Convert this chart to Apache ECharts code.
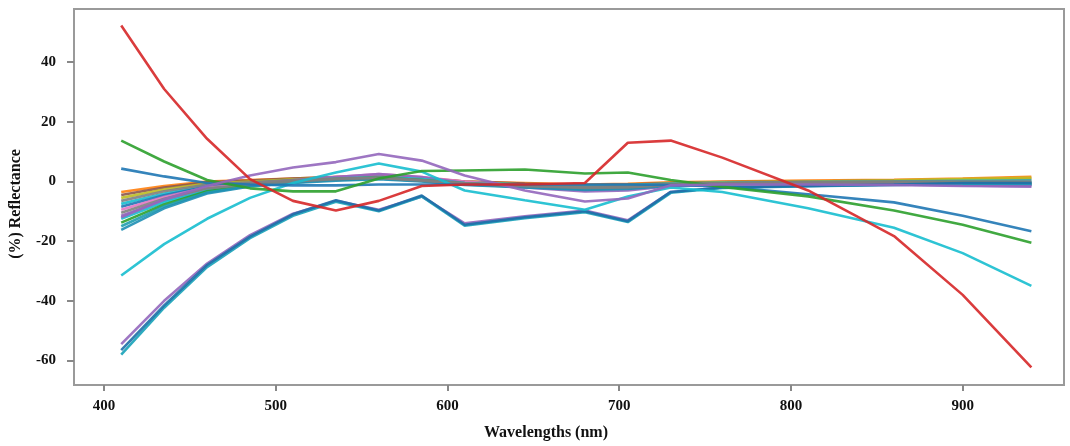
<!DOCTYPE html>
<html>
<head>
<meta charset="utf-8">
<script src="https://cdn.jsdelivr.net/npm/echarts@6/dist/echarts.min.js"></script>
<style>html,body{margin:0;padding:0;background:#fff}#c{width:1070px;height:446px}</style>
</head>
<body>
<div id="c"></div>
<script>
const wavelengths = [410,435,460,485,510,535,560,585,610,645,680,705,730,760,810,860,900,940];
const xTicks = [400,500,600,700,800,900];
const yTicks = [-60,-40,-20,0,20,40];

// band lines (converging near zero)
const bandOrange = [-3.5,-1.5,0,0.5,1,1.5,1.8,1,0,-0.5,-1,-0.8,-0.3,0,0.3,0.6,1,1.6];
const bandBrown  = [-4.5,-2,-0.3,0.3,1,1.5,2,1.2,0,-0.7,-1.3,-1,-0.5,-0.2,0,0.3,0.5,0.8];
const bandOlive  = [-5.5,-2.7,-0.7,0,0.7,1.2,1.5,0.8,-0.3,-1,-1.5,-1.2,-0.7,-0.3,0,0.4,0.8,1.2];
const bandCyanA  = [-7.5,-4,-1.3,-0.5,0.3,1,1.5,1,-0.3,-1,-1.5,-1.3,-0.7,-0.4,-0.2,0,0.2,0.3];
const bandBlue   = [-8.5,-4.6,-1.7,-0.7,0,0.7,1,0.3,-0.7,-1.5,-2,-1.7,-1,-0.6,-0.3,-0.2,-0.2,-0.3];
const bandPink   = [-9.5,-5.2,-2,-0.9,0.3,1.5,2.5,1.5,0,-1.5,-2.7,-2.3,-1,-0.6,-0.4,-0.4,-0.4,-0.5];
const bandPurple = [-11.5,-6.4,-2.6,-1,0.5,1.5,2.5,1.5,-0.5,-2,-3.3,-3,-1.5,-1,-0.8,-1,-1.3,-1.7];
const bandCyanB  = [-12.5,-7,-3,-1.2,0,1,1.5,0.8,-0.5,-1.3,-2,-1.8,-1,-0.7,-0.5,-0.5,-0.6,-0.7];
const bandGreen  = [-13.8,-7.7,-3.3,-1.3,0,0.8,1.3,0.5,-0.7,-1.5,-2.3,-2,-1,-0.6,-0.4,-0.4,-0.4,-0.5];
const bandTeal   = [-15,-8.4,-3.7,-1.5,-0.3,0.5,1,0.2,-1,-1.8,-2.5,-2.2,-1.2,-0.8,-0.6,-0.7,-0.8,-1];
const bandTealB  = [-16.2,-9,-4,-1.7,-0.5,0.3,0.8,0,-1.2,-2,-2.8,-2.5,-1.4,-1,-0.7,-0.8,-1,-1.2];
const bandGrayA  = [-6.5,-3.3,-1,-0.3,0.5,1,1.3,0.5,-0.5,-1.2,-1.8,-1.5,-0.8,-0.5,-0.2,0,0,0];
const bandGrayB  = [-10.5,-5.8,-2.3,-1,0,0.8,1.2,0.3,-0.8,-1.6,-2.2,-2,-1.2,-0.8,-0.5,-0.5,-0.6,-0.8];

// bottom group
const lowPurple = [-54.5,-40,-27.5,-18,-10.8,-6.5,-9.5,-5,-14,-11.7,-9.7,-13,-3.5,-2,-1.5,-1.2,-1,-1];
const lowBlue   = [-56.5,-41.5,-28,-18.5,-11,-6.3,-9.7,-4.7,-14.5,-12,-10,-13.3,-3.5,-2,-1.5,-1,-0.5,-0.5];
const lowTeal   = [-58,-42.3,-28.7,-19,-11.5,-6.8,-10,-5,-14.8,-12.3,-10.3,-13.6,-3.8,-2.2,-1.6,-1.2,-0.8,-0.8];

// distinct lines
const purpleHump = [-12,-6,-1.5,2,4.7,6.5,9.2,7,2,-3,-6.7,-5.7,-1.3,-1,-1,-1.2,-1.5,-1.7];
const cyanLine   = [-31.5,-21,-12.5,-5.5,-0.5,3,6,3.3,-3,-6.3,-9.5,-5,-2,-3.5,-9,-15.5,-24,-35];
const blueLine   = [4.3,1.7,-0.5,-1,-1.3,-1.3,-1,-1,-1,-1,-1,-1,-1.2,-1.7,-4.3,-7,-11.5,-16.7];
const greenLine  = [13.7,6.7,0.5,-2.3,-3.3,-3.3,1,3.5,3.7,4,2.7,3,0.5,-1.8,-5,-9.7,-14.5,-20.5];
const redLine    = [52.3,31,14.3,0.8,-6.5,-9.7,-6.5,-1.5,-1,-1,-0.5,13,13.7,8,-3,-18.3,-38,-62.3];

const seriesDefs = [
  [bandOrange,'#ff7f0e'],[bandBrown,'#8c564b'],[bandOlive,'#bcbd22'],[bandCyanA,'#17becf'],
  [bandBlue,'#1f77b4'],[bandPink,'#e377c2'],[bandPurple,'#9467bd'],[bandCyanB,'#17becf'],
  [bandGreen,'#2ca02c'],[bandTeal,'#1f9eae'],[bandTealB,'#1f8fb4'],
  [bandGrayA,'#7f7f7f'],[bandGrayB,'#7f7f7f'],
  [lowPurple,'#9467bd'],[lowTeal,'#17a2b8'],[lowBlue,'#1f6fa8'],
  [cyanLine,'#17becf'],[blueLine,'#1f77b4'],[greenLine,'#2ca02c'],[purpleHump,'#9467bd'],[redLine,'#d62728']
];

const series = seriesDefs.map(([vals,color]) => ({
  type:'line', symbol:'none', smooth:false, silent:true,
  data: wavelengths.map((w,i)=>[w, vals[i]]),
  lineStyle:{color:color, width:2.6, opacity:0.9}
}));

const font = '"Liberation Serif", "Times New Roman", serif';
const chart = echarts.init(document.getElementById('c'), null, {renderer:'canvas'});
chart.setOption({
  animation:false,
  backgroundColor:'#fff',
  grid:{left:74, right:6, top:9, bottom:58, show:true, borderColor:'#9a9a9a', borderWidth:2, containLabel:false},
  xAxis:{
    type:'value', min:382.5, max:959,
    name:'Wavelengths (nm)', nameLocation:'middle', nameGap:40,
    nameTextStyle:{fontFamily:font, fontWeight:'bold', fontSize:16, color:'#111', padding:[0,46,0,0]},
    axisLine:{show:true, onZero:false, lineStyle:{color:'#9a9a9a', width:2}},
    axisTick:{show:true, length:6, lineStyle:{color:'#888', width:2}, customValues:xTicks},
    axisLabel:{fontFamily:font, fontWeight:'bold', fontSize:15, color:'#111', margin:14, customValues:xTicks},
    splitLine:{show:false}
  },
  yAxis:{
    type:'value', min:-68.2, max:57.8,
    name:'(%) Reflectance', nameLocation:'middle', nameGap:50, nameRotate:90,
    nameTextStyle:{fontFamily:font, fontWeight:'bold', fontSize:16, color:'#111', padding:[0,14,0,0]},
    axisLine:{show:true, onZero:false, lineStyle:{color:'#9a9a9a', width:2}},
    axisTick:{show:true, length:7, lineStyle:{color:'#888', width:2}, customValues:yTicks},
    axisLabel:{fontFamily:font, fontWeight:'bold', fontSize:15, color:'#111', margin:18, customValues:yTicks},
    splitLine:{show:false}
  },
  series: series
});
</script>
</body>
</html>
